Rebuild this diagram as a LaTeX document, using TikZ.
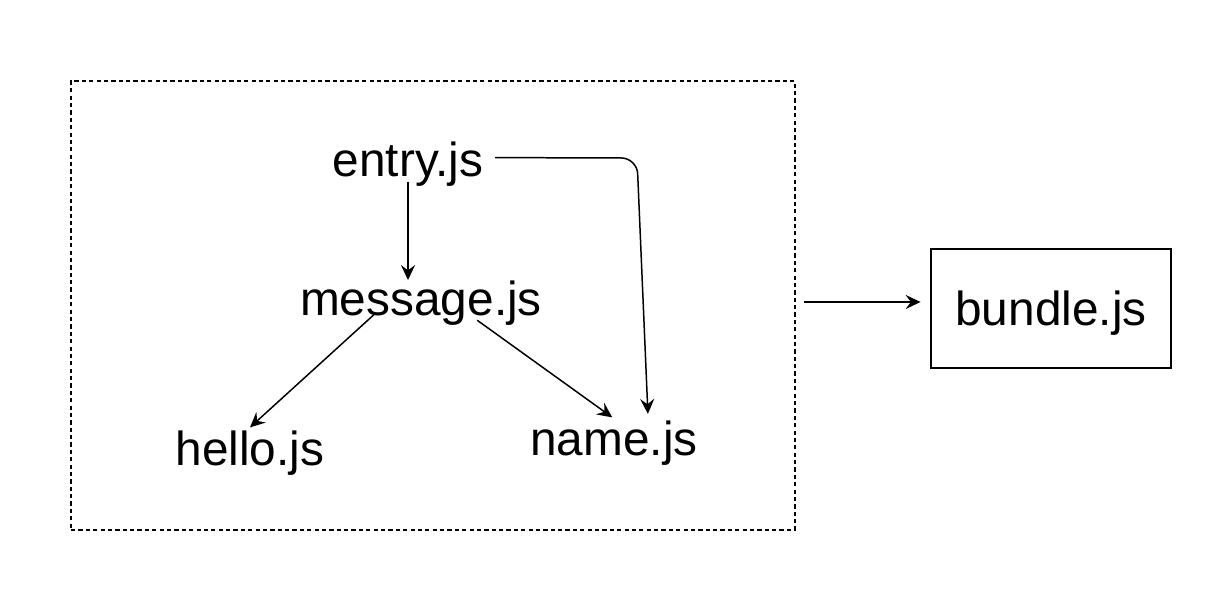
\documentclass[tikz,border=0pt]{standalone}
\usepackage{fontspec}
\setmainfont{Liberation Sans}
\usepackage{tikz}
\usetikzlibrary{arrows.meta, calc, positioning}
\tikzset{>={Stealth[length=8.5pt, width=8pt, inset=3pt]}}

\begin{document}
\begin{tikzpicture}[
  x=0.02cm, y=-0.02cm,
  file/.style={inner sep=0pt, anchor=base, font=\fontsize{27.2}{31}\selectfont},
  bundlebox/.style={rectangle, draw, line width=0.9pt, minimum width=4.8cm, minimum height=2.38cm, text depth=0pt, font=\fontsize{27.2}{31}\selectfont},
  groupbox/.style={rectangle, draw, line width=0.85pt, dash pattern=on 2.4pt off 1.8pt, minimum width=14.48cm, minimum height=8.98cm},
  deparrow/.style={->, line width=0.85pt}
]
\useasboundingbox (0,0) rectangle (1212,604);

% Group of source modules
\node[groupbox] (frame) at (433,305.5) {};

% Modules
\node[file] (entry) at (408,177) {entry.js};
\node[file] (msg) at (421,315) {message.js};
\node[file] (hello) at (250,465) {hello.js};
\node[file] (name) at (614,455) {name.js};
\coordinate (bend) at (637,158);

% Output
\node[bundlebox] (bundle) at (1051,308.5) {bundle.js};

% Dependencies
\draw[deparrow] ([yshift=3pt]entry.south) -- (entry.south |- msg.north);
\draw[deparrow, rounded corners=9pt] ([xshift=6.5pt, yshift=4pt]entry.east) -- (bend) -- ([xshift=19.3pt, yshift=3.5pt]name.north);
\draw[deparrow] ([xshift=-27pt]msg.base) -- ([yshift=1.5pt]hello.north);
\draw[deparrow] ([xshift=32pt, yshift=-3pt]msg.base) -- ([xshift=-1pt, yshift=1.5pt]name.north);

% Bundling
\draw[deparrow, shorten <=4.5pt, shorten >=5.5pt] ([yshift=2pt]frame.east) -- ([yshift=2pt]frame.east -| bundle.west);

\end{tikzpicture}
\end{document}
